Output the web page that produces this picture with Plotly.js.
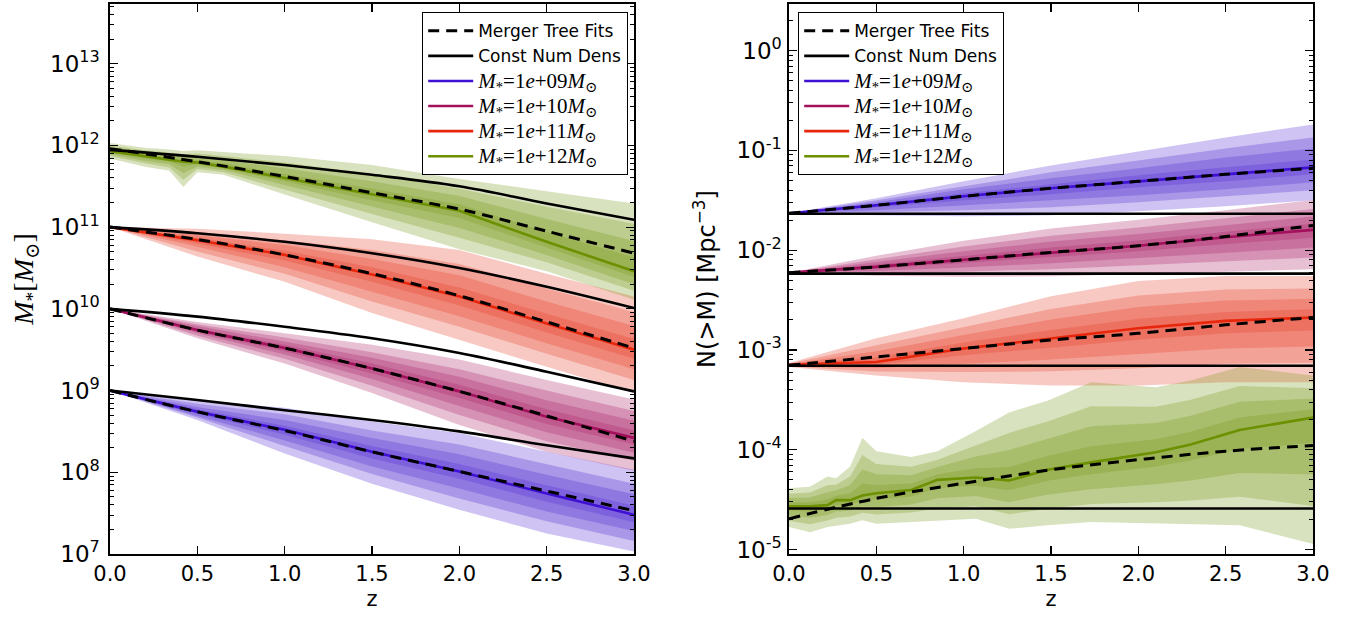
<!DOCTYPE html>
<html><head><meta charset="utf-8">
<script src="https://cdn.plot.ly/plotly-3.0.1.min.js"></script>
<style>html,body{margin:0;padding:0;background:#fff}</style>
</head><body><div id="plot" style="width:1351px;height:618px"></div>
<script>
// ---------- DATA (values are log10) ----------
const zL = [0, 0.5, 1.0, 1.5, 2.0, 2.5, 3.0];

// Left panel: stellar mass M* [Msun], log10
const L9_med = [9.00, 8.74, 8.52, 8.25, 8.01, 7.74, 7.48];
const L9_fit = [9.00, 8.74, 8.51, 8.25, 8.01, 7.77, 7.53];
const L9_cnd = [9.00, 8.885, 8.76, 8.64, 8.50, 8.33, 8.17];
const L9_hi1 = [9.00, 8.88, 8.79, 8.62, 8.48, 8.25, 8.03];
const L9_lo1 = [9.00, 8.64, 8.23, 7.86, 7.54, 7.25, 7.03];
const L9_hi2 = [9.00, 8.84, 8.71, 8.51, 8.34, 8.10, 7.86];
const L9_lo2 = [9.00, 8.67, 8.32, 7.98, 7.68, 7.40, 7.16];
const L9_hi3 = [9.00, 8.80, 8.64, 8.42, 8.22, 7.97, 7.73];
const L9_lo3 = [9.00, 8.69, 8.39, 8.07, 7.80, 7.52, 7.28];
const L9_hi4 = [9.00, 8.77, 8.57, 8.32, 8.10, 7.84, 7.59];
const L9_lo4 = [9.00, 8.72, 8.46, 8.17, 7.92, 7.64, 7.39];

const L10_med = [10.00, 9.74, 9.52, 9.27, 8.99, 8.68, 8.42];
const L10_fit = [10.00, 9.74, 9.52, 9.27, 8.99, 8.69, 8.38];
const L10_cnd = [10.00, 9.905, 9.78, 9.64, 9.46, 9.23, 8.99];
const L10_hi1 = [10.0, 9.84, 9.70, 9.56, 9.38, 9.13, 8.89];
const L10_lo1 = [10.0, 9.64, 9.33, 8.97, 8.58, 8.25, 8.02];
const L10_hi2 = [10.0, 9.81, 9.65, 9.47, 9.26, 9.00, 8.75];
const L10_lo2 = [10.0, 9.67, 9.39, 9.06, 8.70, 8.38, 8.14];
const L10_hi3 = [10.0, 9.79, 9.60, 9.40, 9.17, 8.88, 8.63];
const L10_lo3 = [10.0, 9.70, 9.44, 9.14, 8.81, 8.49, 8.24];
const L10_hi4 = [10.0, 9.76, 9.56, 9.33, 9.07, 8.77, 8.51];
const L10_lo4 = [10.0, 9.72, 9.48, 9.21, 8.91, 8.59, 8.34];

const L11_med = [11.0, 10.84, 10.66, 10.42, 10.15, 9.82, 9.50];
const L11_fit = [11.0, 10.85, 10.66, 10.43, 10.16, 9.84, 9.52];
const L11_cnd = [11.0, 10.925, 10.82, 10.68, 10.50, 10.27, 10.01];
const L11_hi1 = [11.0, 10.98, 10.92, 10.85, 10.72, 10.43, 10.15];
const L11_lo1 = [11.0, 10.64, 10.33, 9.95, 9.62, 9.29, 8.97];
const L11_hi2 = [11.0, 10.94, 10.84, 10.72, 10.55, 10.25, 9.96];
const L11_lo2 = [11.0, 10.70, 10.43, 10.09, 9.78, 9.45, 9.13];
const L11_hi3 = [11.0, 10.90, 10.78, 10.61, 10.41, 10.09, 9.79];
const L11_lo3 = [11.0, 10.76, 10.51, 10.21, 9.91, 9.58, 9.26];
const L11_hi4 = [11.0, 10.87, 10.71, 10.51, 10.26, 9.94, 9.63];
const L11_lo4 = [11.0, 10.80, 10.59, 10.33, 10.04, 9.71, 9.39];

const L12_fit = [11.96, 11.80, 11.62, 11.42, 11.22, 10.95, 10.68];
const L12_cnd = [11.945, 11.86, 11.76, 11.64, 11.50, 11.29, 11.09];
const zGL = [0, 0.2, 0.34, 0.42, 0.5, 0.65, 1.0, 1.5, 2.0, 2.5, 3.0];
const L12_med = [11.93, 11.87, 11.83, 11.80, 11.79, 11.74, 11.60, 11.40, 11.20, 10.82, 10.46];
const L12_hi1 = [12.03, 11.97, 11.95, 11.93, 11.94, 11.92, 11.87, 11.76, 11.59, 11.44, 11.29];
const L12_lo1 = [11.84, 11.74, 11.69, 11.49, 11.67, 11.64, 11.40, 11.06, 10.73, 10.46, 10.11];
const L12_hi2 = [12.00, 11.94, 11.91, 11.89, 11.90, 11.87, 11.79, 11.65, 11.47, 11.25, 11.04];
const L12_lo2 = [11.87, 11.78, 11.73, 11.58, 11.71, 11.67, 11.46, 11.16, 10.87, 10.57, 10.22];
const L12_hi3 = [11.98, 11.92, 11.88, 11.86, 11.86, 11.82, 11.72, 11.56, 11.38, 11.10, 10.83];
const L12_lo3 = [11.89, 11.81, 11.77, 11.66, 11.74, 11.70, 11.51, 11.25, 10.99, 10.66, 10.30];
const L12_hi4 = [11.95, 11.89, 11.85, 11.83, 11.82, 11.78, 11.65, 11.47, 11.28, 10.94, 10.63];
const L12_lo4 = [11.91, 11.84, 11.80, 11.74, 11.77, 11.72, 11.56, 11.33, 11.11, 10.75, 10.39];

// Right panel: number density N(>M) [Mpc^-3], log10
const zR = [0, 0.5, 1.0, 1.5, 2.0, 2.5, 3.0];
const R9_med = [-1.63, -1.55, -1.46, -1.38, -1.31, -1.24, -1.17];
const R9_fit = [-1.63, -1.55, -1.46, -1.38, -1.31, -1.24, -1.18];
const R9_cnd = [-1.634, -1.634, -1.634, -1.634, -1.634, -1.634, -1.634];
const R9_hi1 = [-1.63, -1.48, -1.31, -1.15, -1.01, -0.87, -0.74];
const R9_lo1 = [-1.63, -1.65, -1.66, -1.65, -1.61, -1.56, -1.50];
const R9_hi2 = [-1.63, -1.50, -1.36, -1.22, -1.10, -0.98, -0.87];
const R9_lo2 = [-1.63, -1.62, -1.60, -1.57, -1.52, -1.46, -1.40];
const R9_hi3 = [-1.63, -1.52, -1.39, -1.28, -1.18, -1.07, -0.98];
const R9_lo3 = [-1.63, -1.60, -1.55, -1.50, -1.45, -1.39, -1.32];
const R9_hi4 = [-1.63, -1.54, -1.43, -1.34, -1.25, -1.17, -1.09];
const R9_lo4 = [-1.63, -1.57, -1.50, -1.44, -1.37, -1.31, -1.24];

const R10_med = [-2.225, -2.167, -2.096, -2.022, -1.955, -1.870, -1.796];
const R10_fit = [-2.225, -2.167, -2.096, -2.022, -1.955, -1.862, -1.752];
const R10_cnd = [-2.235, -2.235, -2.235, -2.235, -2.235, -2.235, -2.235];
const R10_hi1 = [-2.225, -2.056, -1.906, -1.782, -1.695, -1.600, -1.496];
const R10_lo1 = [-2.225, -2.257, -2.266, -2.262, -2.235, -2.215, -2.191];
const R10_hi2 = [-2.225, -2.090, -1.963, -1.854, -1.773, -1.681, -1.586];
const R10_lo2 = [-2.225, -2.230, -2.215, -2.190, -2.151, -2.112, -2.073];
const R10_hi3 = [-2.225, -2.117, -2.010, -1.914, -1.838, -1.749, -1.661];
const R10_lo3 = [-2.225, -2.208, -2.173, -2.130, -2.081, -2.025, -1.974];
const R10_hi4 = [-2.225, -2.145, -2.058, -1.974, -1.903, -1.816, -1.736];
const R10_lo4 = [-2.225, -2.185, -2.130, -2.070, -2.011, -1.939, -1.875];

const R11_med = [-3.147, -3.120, -2.985, -2.883, -2.782, -2.708, -2.674];
const R11_fit = [-3.154, -3.069, -2.985, -2.900, -2.833, -2.748, -2.674];
const R11_cnd = [-3.157, -3.157, -3.157, -3.157, -3.157, -3.157, -3.157];
const R11_hi1 = [-3.130, -2.883, -2.681, -2.461, -2.309, -2.259, -2.259];
const R11_lo1 = [-3.170, -3.255, -3.322, -3.356, -3.356, -3.322, -3.322];
const R11_hi2 = [-3.135, -2.954, -2.775, -2.589, -2.453, -2.393, -2.384];
const R11_lo2 = [-3.165, -3.215, -3.221, -3.214, -3.184, -3.138, -3.128];
const R11_hi3 = [-3.140, -3.013, -2.850, -2.694, -2.570, -2.505, -2.487];
const R11_lo3 = [-3.160, -3.181, -3.137, -3.096, -3.040, -2.984, -2.966];
const R11_hi4 = [-3.145, -3.073, -2.925, -2.799, -2.688, -2.618, -2.591];
const R11_lo4 = [-3.150, -3.147, -3.052, -2.978, -2.897, -2.831, -2.804];

const R12_fit = [-4.690, -4.487, -4.335, -4.200, -4.099, -4.014, -3.957];
const R12_cnd = [-4.588, -4.588, -4.588, -4.588, -4.588, -4.588, -4.588];
const zGR = [0, 0.12, 0.22, 0.27, 0.35, 0.42, 0.5, 0.7, 0.85, 1.07, 1.26, 1.48, 1.73, 2.1, 2.3, 2.58, 3.0];
const R12_med = [-4.565, -4.565, -4.554, -4.504, -4.504, -4.457, -4.436, -4.403, -4.301, -4.278, -4.308, -4.200, -4.126, -4.024, -3.947, -3.802, -3.677];
const R12_hi1 = [-4.386, -4.369, -4.268, -4.284, -4.166, -3.879, -4.014, -4.072, -4.014, -3.812, -3.626, -3.508, -3.322, -3.373, -3.305, -3.170, -3.255];
const R12_lo1 = [-4.774, -4.825, -4.774, -4.757, -4.740, -4.706, -4.740, -4.723, -4.713, -4.690, -4.791, -4.757, -4.723, -4.740, -4.747, -4.757, -4.943];
const R12_hi2 = [-4.440, -4.428, -4.354, -4.350, -4.267, -4.052, -4.141, -4.171, -4.100, -3.952, -3.831, -3.716, -3.563, -3.568, -3.498, -3.360, -3.382];
const R12_lo2 = [-4.711, -4.747, -4.708, -4.681, -4.669, -4.631, -4.649, -4.627, -4.589, -4.566, -4.646, -4.590, -4.544, -4.525, -4.507, -4.471, -4.563];
const R12_hi3 = [-4.484, -4.477, -4.425, -4.405, -4.352, -4.197, -4.246, -4.254, -4.172, -4.068, -4.001, -3.889, -3.764, -3.731, -3.658, -3.518, -3.487];
const R12_lo3 = [-4.659, -4.682, -4.653, -4.618, -4.610, -4.569, -4.573, -4.547, -4.486, -4.463, -4.525, -4.451, -4.395, -4.346, -4.307, -4.232, -4.247];
const R12_hi4 = [-4.529, -4.526, -4.497, -4.460, -4.436, -4.341, -4.352, -4.337, -4.244, -4.185, -4.172, -4.062, -3.965, -3.894, -3.819, -3.676, -3.593];
const R12_lo4 = [-4.607, -4.617, -4.598, -4.555, -4.551, -4.507, -4.497, -4.467, -4.383, -4.360, -4.405, -4.311, -4.245, -4.167, -4.107, -3.993, -3.930];

// tick labels
const yTickValsL = [1e7, 1e8, 1e9, 1e10, 1e11, 1e12, 1e13];
const yTickTextL = ['10<sup>7</sup>', '10<sup>8</sup>', '10<sup>9</sup>', '10<sup>10</sup>', '10<sup>11</sup>', '10<sup>12</sup>', '10<sup>13</sup>'];
const yTickValsR = [1e-5, 1e-4, 1e-3, 1e-2, 1e-1, 1];
const yTickTextR = ['10<sup>-5</sup>', '10<sup>-4</sup>', '10<sup>-3</sup>', '10<sup>-2</sup>', '10<sup>-1</sup>', '10<sup>0</sup>'];
const massLabels = ['1e+09', '1e+10', '1e+11', '1e+12'];

// ---------- STYLE ----------
const lineColors = ['#3f10d4', '#a3105c', '#e8260c', '#6c9000'];
const bandRGB = ['80,40,210', '170,30,100', '230,60,40', '120,150,20'];
const bandAlpha = 0.28;
const SERIF = "Liberation Serif, DejaVu Serif, serif";

const P = v => v.map(x => Math.pow(10, x));

function bands(z, his, los, rgb, xa, ya) {
  const out = [];
  for (let k = 0; k < his.length; k++) {
    out.push({
      x: z.concat(z.slice().reverse()),
      y: P(his[k]).concat(P(los[k]).reverse()),
      mode: 'lines', fill: 'toself', fillcolor: 'rgba(' + rgb + ',' + bandAlpha + ')',
      line: {width: 0, color: 'rgba(0,0,0,0)'}, hoverinfo: 'skip', showlegend: false,
      xaxis: xa, yaxis: ya
    });
  }
  return out;
}
function mlabel(s) {
  return '<span style="font-family:' + SERIF + ';font-size:21px"><i>M</i><sub>*</sub>=1<i>e</i>+' + s.slice(3) + '<i>M</i><sub>\u2299</sub></span>';
}

const left = [
  {z: zL, med: L9_med, fit: L9_fit, cnd: L9_cnd, his: [L9_hi1, L9_hi2, L9_hi3, L9_hi4], los: [L9_lo1, L9_lo2, L9_lo3, L9_lo4]},
  {z: zL, med: L10_med, fit: L10_fit, cnd: L10_cnd, his: [L10_hi1, L10_hi2, L10_hi3, L10_hi4], los: [L10_lo1, L10_lo2, L10_lo3, L10_lo4]},
  {z: zL, med: L11_med, fit: L11_fit, cnd: L11_cnd, his: [L11_hi1, L11_hi2, L11_hi3, L11_hi4], los: [L11_lo1, L11_lo2, L11_lo3, L11_lo4]},
  {z: zGL, med: L12_med, fit: L12_fit, cnd: L12_cnd, his: [L12_hi1, L12_hi2, L12_hi3, L12_hi4], los: [L12_lo1, L12_lo2, L12_lo3, L12_lo4]}
];
const right = [
  {z: zR, med: R9_med, fit: R9_fit, cnd: R9_cnd, his: [R9_hi1, R9_hi2, R9_hi3, R9_hi4], los: [R9_lo1, R9_lo2, R9_lo3, R9_lo4]},
  {z: zR, med: R10_med, fit: R10_fit, cnd: R10_cnd, his: [R10_hi1, R10_hi2, R10_hi3, R10_hi4], los: [R10_lo1, R10_lo2, R10_lo3, R10_lo4]},
  {z: zR, med: R11_med, fit: R11_fit, cnd: R11_cnd, his: [R11_hi1, R11_hi2, R11_hi3, R11_hi4], los: [R11_lo1, R11_lo2, R11_lo3, R11_lo4]},
  {z: zGR, med: R12_med, fit: R12_fit, cnd: R12_cnd, his: [R12_hi1, R12_hi2, R12_hi3, R12_hi4], los: [R12_lo1, R12_lo2, R12_lo3, R12_lo4]}
];

const traces = [];
function panel(sets, xa, ya, lg, zfit) {
  sets.forEach((s, i) => { bands(s.z, s.his, s.los, bandRGB[i], xa, ya).forEach(t => traces.push(t)); });
  sets.forEach((s, i) => {
    traces.push({x: s.z, y: P(s.med), mode: 'lines', line: {color: lineColors[i], width: 2.6},
      name: mlabel(massLabels[i]), legend: lg, legendrank: 3 + i, showlegend: true, xaxis: xa, yaxis: ya, hoverinfo: 'skip'});
  });
  sets.forEach((s, i) => {
    traces.push({x: zfit, y: P(s.fit), mode: 'lines', line: {color: '#000', width: 3, dash: '11px,7px', shape: 'spline'},
      name: 'Merger Tree Fits', legend: lg, legendrank: 1, showlegend: i === 0, xaxis: xa, yaxis: ya, hoverinfo: 'skip'});
    traces.push({x: zfit, y: P(s.cnd), mode: 'lines', line: {color: '#000', width: 2.6, shape: 'spline'},
      name: 'Const Num Dens', legend: lg, legendrank: 2, showlegend: i === 0, xaxis: xa, yaxis: ya, hoverinfo: 'skip'});
  });
}
panel(left, 'x', 'y', 'legend', zL);
panel(right, 'x2', 'y2', 'legend2', zR);

function minorVals(lo, hi) {
  const v = [];
  for (let e = lo; e <= hi; e++) for (let m = 2; m <= 9; m++) v.push(m * Math.pow(10, e));
  return v;
}

const tickFont = {family: 'DejaVu Sans', size: 21, color: '#000'};
const yTickFont = {family: 'DejaVu Sans', size: 23, color: '#000'};
const common = {
  showline: true, linecolor: '#000', linewidth: 1.6, mirror: 'allticks',
  ticks: 'inside', ticklen: 8, tickwidth: 1.2, tickcolor: '#000',
  showgrid: false, zeroline: false, tickfont: tickFont, automargin: false
};
const xax = (dom, anchor) => Object.assign({}, common, {
  domain: dom, anchor: anchor, range: [0, 3], dtick: 0.5, tick0: 0, tickformat: '.1f',
  title: {text: 'z', font: {family: 'DejaVu Sans', size: 21, color: '#000'}, standoff: 6}
});

const W = 1351, ML = 110, MR = 38, PW = W - ML - MR;
const legendStyle = {xanchor: 'left', yanchor: 'top', xref: 'paper', yref: 'paper',
  bgcolor: '#fff', bordercolor: '#000', borderwidth: 1.2, itemwidth: 45,
  font: {family: 'DejaVu Sans', size: 17, color: '#000'}, traceorder: 'normal', tracegroupgap: 0};
const layout = {
  width: 1351, height: 618,
  margin: {l: ML, r: MR, t: 4, b: 64},
  paper_bgcolor: '#fff', plot_bgcolor: '#fff',
  xaxis: xax([0, 524 / PW], 'y'),
  xaxis2: xax([(789 - ML) / PW, 1], 'y2'),
  yaxis: Object.assign({}, common, {
    type: 'log', anchor: 'x', domain: [0, 1], range: [7, 13.73],
    tickmode: 'array', tickvals: yTickValsL, ticktext: yTickTextL, tickfont: yTickFont, ticklabelstandoff: 4,
    minor: {tickmode: 'array', tickvals: minorVals(7, 13), ticks: 'inside', ticklen: 4, tickwidth: 1, tickcolor: '#000', showgrid: false},
    title: {text: '<i>M</i><sub>*</sub>[<i>M</i><sub>\u2299</sub>]', font: {family: SERIF, size: 28, color: '#000'}, standoff: 8}
  }),
  yaxis2: Object.assign({}, common, {
    type: 'log', anchor: 'x2', domain: [0, 1], range: [-5.044, 0.467],
    tickmode: 'array', tickvals: yTickValsR, ticktext: yTickTextR, tickfont: yTickFont, ticklabelstandoff: 1,
    minor: {tickmode: 'array', tickvals: minorVals(-6, 0), ticks: 'inside', ticklen: 4, tickwidth: 1, tickcolor: '#000', showgrid: false},
    title: {text: 'N(&gt;M) [Mpc<sup>\u22123</sup>]', font: {family: 'DejaVu Sans', size: 24, color: '#000'}, standoff: 14}
  }),
  legend: Object.assign({}, legendStyle, {x: (422 - ML) / PW, y: 1 - (12 - 4) / 550}),
  legend2: Object.assign({}, legendStyle, {x: (798 - ML) / PW, y: 1 - (12 - 4) / 550}),
  showlegend: true
};

Plotly.newPlot('plot', traces, layout, {staticPlot: true, displayModeBar: false});
</script>
</body></html>
